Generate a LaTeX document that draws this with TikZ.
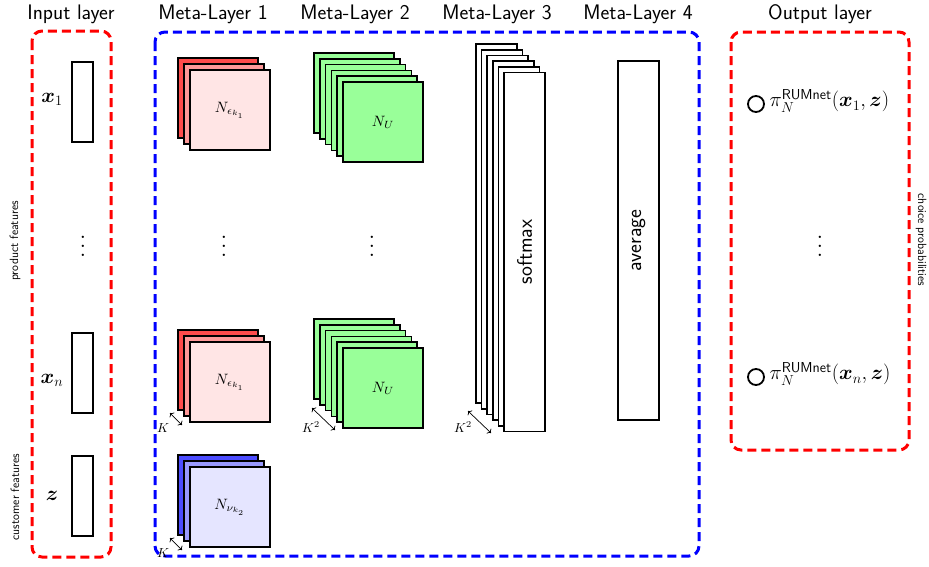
\documentclass[tikz,border=0pt]{standalone}
\usepackage{amsmath,bm}
\usetikzlibrary{arrows.meta}
\begin{document}
\begin{tikzpicture}[x=1pt,y=-1pt,
  frame/.style={line width=3pt, dash pattern=on 9pt off 5pt, rounded corners=10pt},
  sheet/.style={draw, line width=1.6pt, inner sep=0pt, minimum width=80pt, minimum height=80pt},
  col/.style={draw, line width=1.6pt, fill=white, inner sep=0pt, minimum width=41pt, minimum height=359pt},
  inbox/.style={draw, line width=1.6pt, inner sep=0pt, minimum width=21pt, minimum height=80pt},
  title/.style={font=\sffamily\fontsize{21}{25}\selectfont},
  big/.style={font=\fontsize{21}{25}\selectfont},
  vdot/.style={inner sep=0pt},
  klab/.style={inner sep=0pt},
  side/.style={font=\sffamily\fontsize{12}{14}\selectfont},
  dim/.style={{To}-{To}, line width=0.7pt},
  outdot/.style={circle, draw, line width=1.8pt, minimum size=16pt, inner sep=0pt}]
\useasboundingbox (0,0) rectangle (929,566);
\fill[white] (0,0) rectangle (929,566);

% titles
\node[title] (t0) at (71,14) {Input layer};
\node[title] (t1) at (213,14) {Meta-Layer 1};
\node[title] (t2) at (355,14) {Meta-Layer 2};
\node[title] (t3) at (497,14) {Meta-Layer 3};
\node[title] (t4) at (638,14) {Meta-Layer 4};
\node[title] (t5) at (820,14) {Output layer};

% frames
\draw[frame, red] (32,31) rectangle (111,557);
\draw[frame, blue] (155,32) rectangle (699,556);
\draw[frame, red] (731,32) rectangle (909,450);

% side labels
\node[side, rotate=90] (pf) at (15,241) {product features};
\node[side, rotate=90] (cf) at (15,497) {customer features};
\node[side, rotate=-90] (cp) at (921,240) {choice probabilities};

% input layer
\node[inbox] (x1) at (82.5,102) {};
\node[inbox] (xn) at (82.5,373) {};
\node[inbox] (z) at (82.5,496) {};
\node[big] (lx1) at (52,99) {$\bm{x}_1$};
\node[big] (lxn) at (52,380) {$\bm{x}_n$};
\node[big] (lz) at (52,496) {$\bm{z}$};
\node[vdot] (d0) at (83,240) {\scalebox{2.2}{$\vdots$}};

% meta-layer 1
\foreach \i/\c in {0/red!70,1/red!40} \node[sheet, fill=\c] (ra\i) at (218+6*\i,98+6*\i) {};
\node[sheet, fill=red!10] (ra2) at (230,110) {\scalebox{1.5}{$N_{\epsilon_{k_1}}$}};
\foreach \i/\c in {0/red!70,1/red!40} \node[sheet, fill=\c] (rb\i) at (218+6*\i,370+6*\i) {};
\node[sheet, fill=red!10] (rb2) at (230,382) {\scalebox{1.5}{$N_{\epsilon_{k_1}}$}};
\foreach \i/\c in {0/blue!70,1/blue!40} \node[sheet, fill=\c] (bb\i) at (218+6*\i,495+6*\i) {};
\node[sheet, fill=blue!10] (bb2) at (230,507) {\scalebox{1.5}{$N_{\nu_{k_2}}$}};
\node[vdot] (d1) at (224,240) {\scalebox{2.2}{$\vdots$}};

\coordinate (k1s) at (170,413); \coordinate (k1e) at (182,425);
\draw[dim] (k1s) -- (k1e);
\node[klab] (k1) at (163,428) {\scalebox{1.3}{$K$}};
\coordinate (k2s) at (170,538); \coordinate (k2e) at (182,550);
\draw[dim] (k2s) -- (k2e);
\node[klab] (k2) at (163,553) {\scalebox{1.3}{$K$}};

% meta-layer 2
\foreach \i in {0,...,4} \node[sheet, fill=green!40] (ga\i) at (354+5.8*\i,93+5.8*\i) {};
\node[sheet, fill=green!40] (ga5) at (383,122) {\scalebox{1.5}{$N_U$}};
\foreach \i in {0,...,4} \node[sheet, fill=green!40] (gb\i) at (354+5.8*\i,359+5.8*\i) {};
\node[sheet, fill=green!40] (gb5) at (383,388) {\scalebox{1.5}{$N_U$}};
\node[vdot] (d2) at (372,240) {\scalebox{2.2}{$\vdots$}};
\coordinate (k3s) at (312,408); \coordinate (k3e) at (335,430);
\draw[dim] (k3s) -- (k3e);
\node[klab] (k3) at (311,427) {\scalebox{1.3}{$K^2$}};

% meta-layer 3
\foreach \i in {0,...,4} \node[col] (s\i) at (496.5+5.6*\i,223.5+5.7*\i) {};
\node[col] (s5) at (524.5,252) {};
\node[title, rotate=90] (sm) at (s5) {softmax};
\coordinate (k4s) at (468,411); \coordinate (k4e) at (491,433);
\draw[dim] (k4s) -- (k4e);
\node[klab] (k4) at (463,427) {\scalebox{1.3}{$K^2$}};

% meta-layer 4
\node[col] (av) at (638.5,240.5) {};
\node[title, rotate=90] (avl) at (av) {average};

% output layer
\node[outdot] (c1) at (756,104) {};
\node[big, anchor=west] (o1) at (766,101) {$\pi_N^{\mathsf{RUMnet}}(\bm{x}_1,\bm{z})$};
\node[outdot] (c2) at (756,377) {};
\node[big, anchor=west] (o2) at (766,374) {$\pi_N^{\mathsf{RUMnet}}(\bm{x}_n,\bm{z})$};
\node[vdot] (d3) at (820,240) {\scalebox{2.2}{$\vdots$}};
\end{tikzpicture}
\end{document}
